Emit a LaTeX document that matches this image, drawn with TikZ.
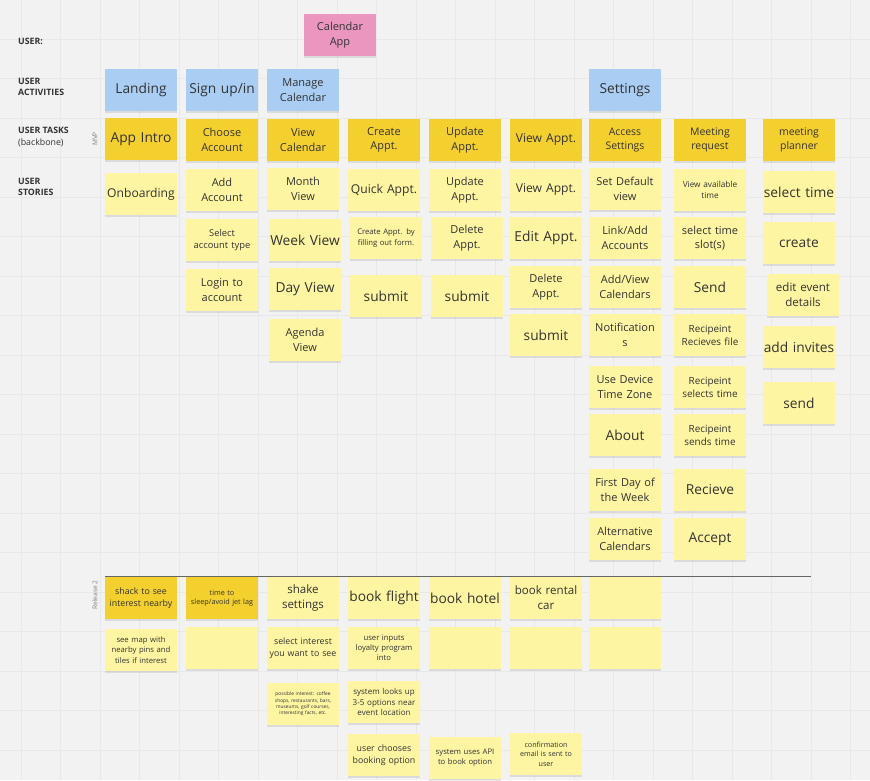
\documentclass[tikz,border=0pt]{standalone}
\usepackage{fontspec}
\setmainfont{Open Sans}
\usetikzlibrary{shadows}
\definecolor{bg}{HTML}{F2F2F2}
\definecolor{gridc}{HTML}{E8E8E8}
\definecolor{blu}{HTML}{A9CDF3}
\definecolor{pnk}{HTML}{EA96BF}
\definecolor{tsk}{HTML}{F4D02E}
\definecolor{sty}{HTML}{FDF5A2}
\definecolor{txt}{HTML}{333333}
\newcommand{\fs}[1]{\fontsize{\fpeval{#1*1.1}}{\fpeval{#1*1.45}}\selectfont}
\tikzset{
 note/.style={minimum width=72pt,minimum height=42pt,text width=71pt,align=center,inner sep=0.5pt,text=txt,
   drop shadow={opacity=0.2,shadow xshift=0pt,shadow yshift=-2pt}},
 act/.style={note,fill=blu,font=\fs{12.5}},
 task/.style={note,fill=tsk,font=\fs{11}},
 story/.style={note,fill=sty,font=\fs{11}},
 big/.style={font=\fs{12.5}},
 lbl/.style={anchor=west,align=left,font=\bfseries\fs{8},text=txt,inner sep=0pt},
 side/.style={rotate=90,font=\fs{6},text=gray}
}
\begin{document}
\begin{tikzpicture}[x=1pt,y=-1pt]
\useasboundingbox (0,0) rectangle (870,780);
\fill[bg] (0,0) rectangle (870,780);
\foreach \x in {21,60.5,...,870} \draw[gridc,line width=0.5pt] (\x,0) -- (\x,780);
\foreach \y in {39,78.5,...,780} \draw[gridc,line width=0.5pt] (0,\y) -- (870,\y);
% labels
\node[lbl] (lu) at (18,41) {USER:};
\node[lbl] (la) at (18,87) {USER\\ACTIVITIES};
\node[lbl] (lt) at (18,137) {USER TASKS\\{\mdseries(backbone)}};
\node[lbl] (ls) at (18,187) {USER\\STORIES};
\node[side] (mvp) at (95,139) {MVP};
\node[side] (rel) at (95,595) {Release 2};
\coordinate (s1) at (105,576); \coordinate (s2) at (811,576);
\draw[gray!80!black,line width=0.8pt] (s1) -- (s2);
% user
\node[note,fill=pnk,font=\fs{10}] (app) at (340,35) {Calendar\\App};
% activities
\node[act] (a1) at (141,90) {Landing};
\node[act] (a2) at (222,90) {Sign up/in};
\node[act,font=\fs{10}] (a3) at (303,90) {Manage\\Calendar};
\node[act] (a7) at (625,90) {Settings};
% tasks
\node[task,font=\fs{12.5}] (t1) at (141,139) {App Intro};
\node[task,font=\fs{10}] (t2) at (222,140) {Choose\\Account};
\node[task,font=\fs{10}] (t3) at (303,140) {View\\Calendar};
\node[task,font=\fs{10}] (t4) at (384,140) {Create\\Appt.};
\node[task,font=\fs{10}] (t5) at (465,140) {Update\\Appt.};
\node[task] (t6) at (546,140) {View Appt.};
\node[task,font=\fs{9.5}] (t7) at (625,140) {Access\\Settings};
\node[task,font=\fs{9.5}] (t8) at (710,140) {Meeting\\request};
\node[task,font=\fs{9.5}] (t9) at (799,140) {meeting\\planner};
% col1
\node[story] (c1a) at (141,194) {Onboarding};
% col2
\node[story,font=\fs{10}] (c2a) at (222,190) {Add\\Account};
\node[story,font=\fs{8.5}] (c2b) at (222,240) {Select\\account type};
\node[story,font=\fs{10}] (c2c) at (222,290) {Login to\\account};
% col3
\node[story,font=\fs{10}] (c3a) at (303,189) {Month\\View};
\node[story,big] (c3b) at (305,240) {Week View};
\node[story,big] (c3c) at (305,289) {Day View};
\node[story,font=\fs{10}] (c3d) at (305,340) {Agenda\\View};
% col4
\node[story] (c4a) at (384,190) {Quick Appt.};
\node[story,font=\fs{7}] (c4b) at (386,238) {Create Appt. by\\filling out form.};
\node[story,big] (c4c) at (386,296) {submit};
% col5
\node[story,font=\fs{10}] (c5a) at (465,190) {Update\\Appt.};
\node[story,font=\fs{10}] (c5b) at (467,238) {Delete\\Appt.};
\node[story,big] (c5c) at (467,296) {submit};
% col6
\node[story] (c6a) at (546,190) {View Appt.};
\node[story,big] (c6b) at (546,238) {Edit Appt.};
\node[story,font=\fs{10}] (c6c) at (546,287) {Delete\\Appt.};
\node[story,big] (c6d) at (546,335) {submit};
% col7
\node[story,font=\fs{10}] (c7a) at (625,189) {Set Default\\view};
\node[story,font=\fs{10}] (c7b) at (625,238) {Link/Add\\Accounts};
\node[story,font=\fs{10}] (c7c) at (625,287) {Add/View\\Calendars};
\node[story,font=\fs{10}] (c7d) at (625,335) {Notification\\s};
\node[story,font=\fs{10}] (c7e) at (625,387) {Use Device\\Time Zone};
\node[story,big] (c7f) at (625,435) {About};
\node[story,font=\fs{10}] (c7g) at (625,490) {First Day of\\the Week};
\node[story,font=\fs{10}] (c7h) at (625,539) {Alternative\\Calendars};
% col8
\node[story,font=\fs{7.5}] (c8a) at (710,190) {View available\\time};
\node[story,font=\fs{10}] (c8b) at (710,238) {select time\\slot(s)};
\node[story,big] (c8c) at (710,287) {Send};
\node[story,font=\fs{9}] (c8d) at (710,335) {Recipeint\\Recieves file};
\node[story,font=\fs{9}] (c8e) at (710,387) {Recipeint\\selects time};
\node[story,font=\fs{9}] (c8f) at (710,435) {Recipeint\\sends time};
\node[story,big] (c8g) at (710,490) {Recieve};
\node[story,big] (c8h) at (710,539) {Accept};
% col9
\node[story,big] (c9a) at (799,192) {select time};
\node[story,big] (c9b) at (799,243) {create};
\node[story,font=\fs{10.5}] (c9c) at (803,295) {edit event\\details};
\node[story,big] (c9d) at (799,347) {add invites};
\node[story,big] (c9e) at (799,403) {send};
% release 2
\node[task,font=\fs{8}] (r1) at (141,598) {shack to see\\interest nearby};
\node[task,font=\fs{6.6}] (r2) at (222,598) {time to\\sleep/avoid jet lag};
\node[story,font=\fs{10.5}] (r3) at (303,598) {shake\\settings};
\node[story,big] (r4) at (384,598) {book flight};
\node[story,big] (r5) at (465,598) {book hotel};
\node[story,font=\fs{10.5}] (r6) at (546,598) {book rental\\car};
\node[story] (r7) at (625,598) {};
\node[story,font=\fs{7}] (q1) at (141,650) {see map with\\nearby pins and\\tiles if interest};
\node[story] (q2) at (222,648) {};
\node[story,font=\fs{8}] (q3) at (303,648) {select interest\\you want to see};
\node[story,font=\fs{7}] (q4) at (384,648) {user inputs\\loyalty program\\into};
\node[story] (q5) at (465,648) {};
\node[story] (q6) at (546,648) {};
\node[story] (q7) at (625,648) {};
\node[story,font=\fs{4.4}] (p3) at (303,704) {possible interest: coffee\\shops, restaurants, bars,\\museums, golf courses,\\interesting facts, etc.};
\node[story,font=\fs{7.3}] (p4) at (384,702) {system looks up\\3-5 options near\\event location};
\node[story,font=\fs{8}] (o4) at (384,755) {user chooses\\booking option};
\node[story,font=\fs{7}] (o5) at (465,758) {system uses API\\to book option};
\node[story,font=\fs{6.5}] (o6) at (546,754) {confirmation\\email is sent to\\user};
\end{tikzpicture}
\end{document}
